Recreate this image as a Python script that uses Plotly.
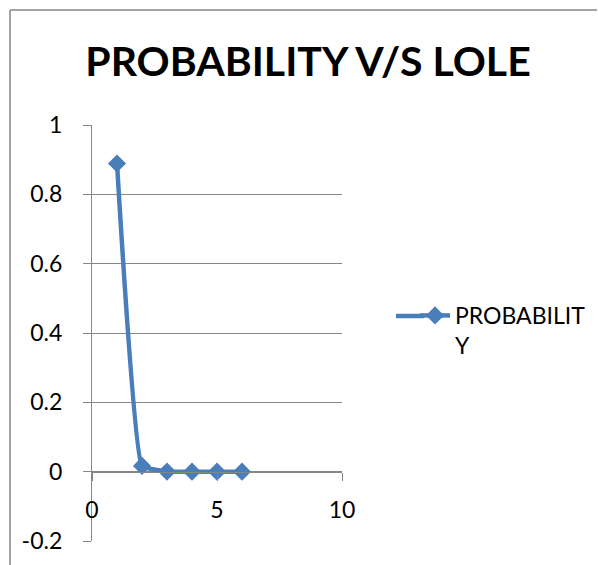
import plotly.graph_objects as go

# Loss-of-load expectation (x) against probability (y)
lole = [1, 2, 3, 4, 5, 6]
probability = [0.889, 0.0165, 0.0003, 0.0, 0.0, 0.0]

x_tick_vals = [0, 5, 10]
x_tick_text = ["0", "5", "10"]
y_tick_vals = [-0.2, 0, 0.2, 0.4, 0.6, 0.8, 1]
y_tick_text = ["-0.2", "0", "0.2", "0.4", "0.6", "0.8", "1"]

series_name = "PROBABILIT<br>Y"
title_text = "PROBABILITY V/S LOLE"

W, H = 598, 565
ML, MR, MT, MB = 92, 256, 125, 24
PW, PH = W - ML - MR, H - MT - MB

BLUE = "#4A7EBB"
GRID = "#868686"
FONT = "Lato"


def px_x(px):
    return (px - ML) / PW


def px_y(py):
    return (H - MB - py) / PH


fig = go.Figure()
fig.add_trace(go.Scatter(
    x=lole, y=probability, name=series_name,
    mode="lines+markers",
    line=dict(color=BLUE, width=4.5, shape="spline", smoothing=0.3),
    marker=dict(symbol="diamond", size=14, color=BLUE),
))

y_min, y_max = -0.2, 1.0

fig.update_layout(
    width=W, height=H,
    margin=dict(l=ML, r=MR, t=MT, b=MB, autoexpand=False),
    paper_bgcolor="white", plot_bgcolor="white",
    font=dict(family=FONT, color="black", size=23),
    title=dict(text="<b>" + title_text + "</b>", x=px_x(308), xref="paper",
               xanchor="center", y=1 - 62 / H, yanchor="middle",
               font=dict(family=FONT, size=41, color="black")),
    showlegend=True,
    legend=dict(x=px_x(415), y=px_y(294), xanchor="left", yanchor="top",
                valign="top", bgcolor="rgba(0,0,0,0)", tracegroupgap=0,
                font=dict(family=FONT, size=23, color="black")),
    xaxis=dict(range=[0, 10], tickvals=x_tick_vals, ticktext=x_tick_text,
               showgrid=False, zeroline=False, showline=True,
               linecolor=GRID, linewidth=1.3,
               ticks="outside", ticklen=8, tickcolor=GRID, tickwidth=1.3,
               anchor="free", position=(0 - y_min) / (y_max - y_min),
               ticklabelstandoff=10),
    yaxis=dict(range=[y_min, y_max], tickvals=y_tick_vals, ticktext=y_tick_text,
               showgrid=True, gridcolor=GRID, gridwidth=1.3,
               zeroline=False, showline=True, linecolor=GRID, linewidth=1.3,
               ticks="outside", ticklen=8, tickcolor=GRID, tickwidth=1.3,
               ticklabelstandoff=16),
)

# Longer legend key line, to the left of the legend's own symbol
fig.add_shape(type="line", xref="paper", yref="paper",
              x0=px_x(396), x1=px_x(424), y0=px_y(316), y1=px_y(316),
              line=dict(color=BLUE, width=4.5))

# Chart frame (left and top edges)
fig.add_shape(type="line", xref="paper", yref="paper",
              x0=px_x(10), x1=px_x(10), y0=px_y(10), y1=px_y(H + 5),
              line=dict(color=GRID, width=1.5))
fig.add_shape(type="line", xref="paper", yref="paper",
              x0=px_x(10), x1=px_x(597), y0=px_y(10), y1=px_y(10),
              line=dict(color=GRID, width=1.5))

fig.write_html("out.html")
